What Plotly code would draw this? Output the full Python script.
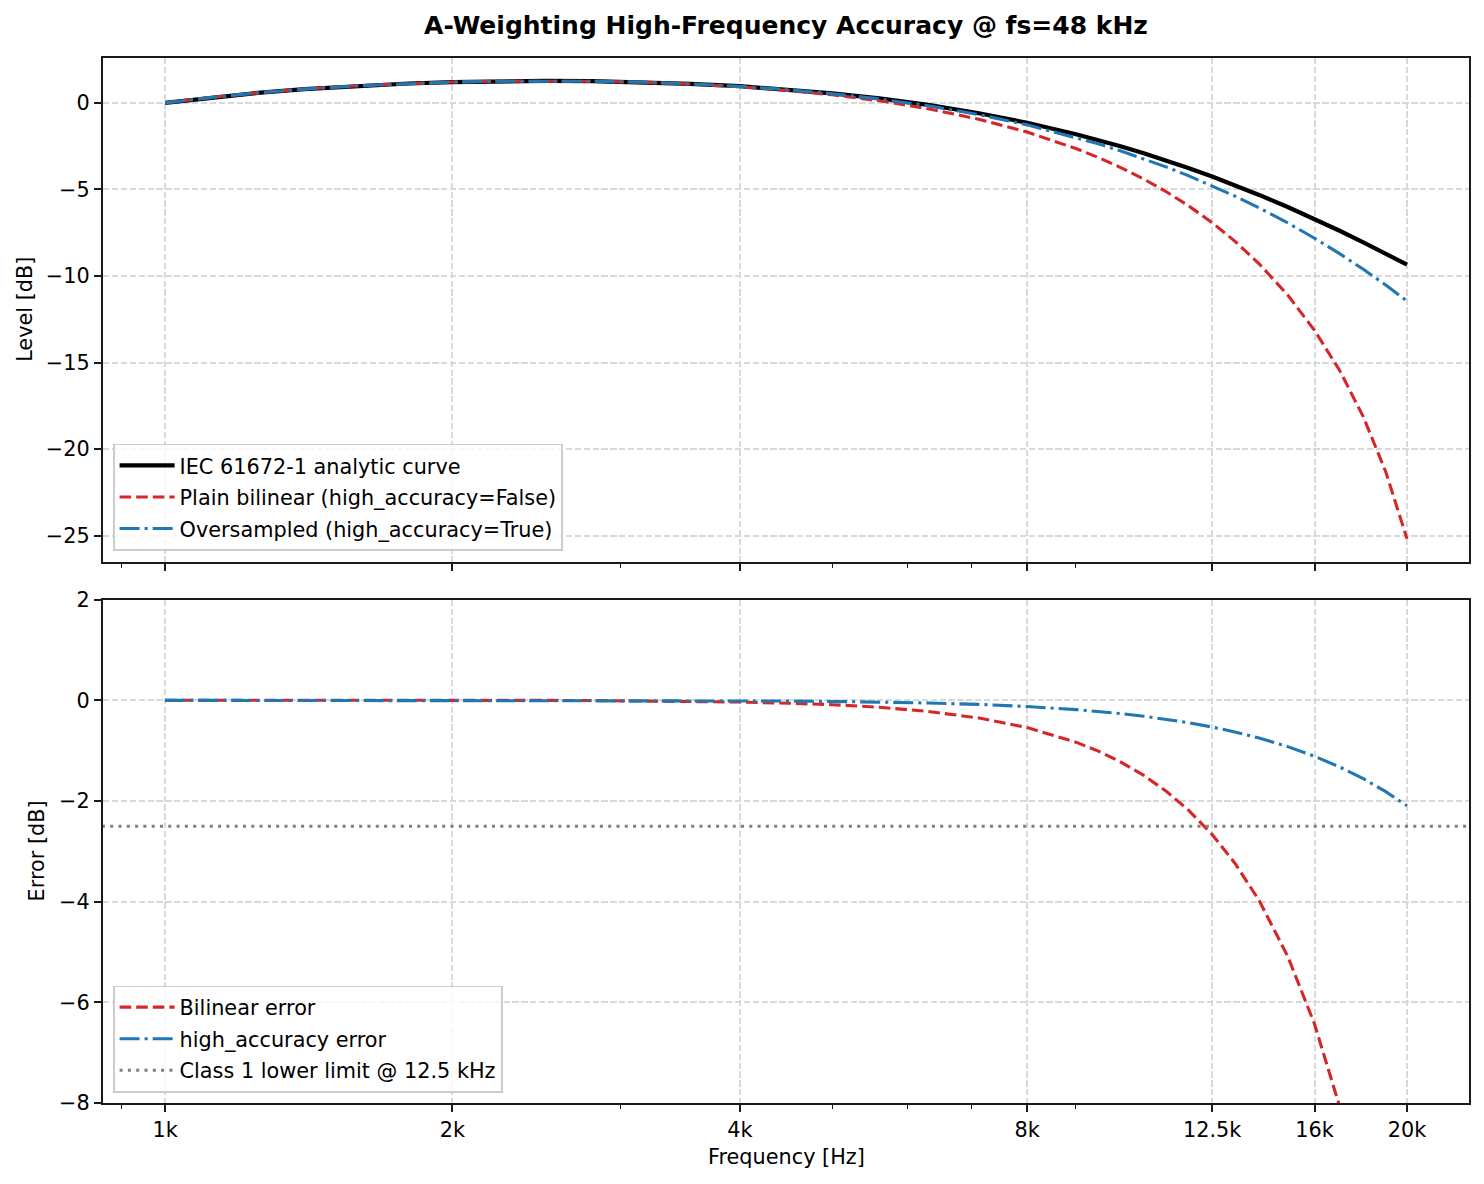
import plotly.graph_objects as go

# ---------------- data ----------------
FREQ_HZ = [1000, 1120, 1250, 1400, 1600, 1800, 2000, 2240, 2500, 2800, 3150, 3550,
           4000, 4500, 5000, 5600, 6300, 7100, 8000, 9000, 9500, 10000, 10600,
           11200, 11800, 12500, 13200, 14000, 15000, 16000, 17000, 18000, 19000, 20000]

ANALYTIC_DB = [0.000, 0.318, 0.576, 0.794, 0.993, 1.122, 1.202, 1.254, 1.271, 1.255,
               1.201, 1.105, 0.964, 0.773, 0.554, 0.261, -0.116, -0.583, -1.147,
               -1.807, -2.147, -2.492, -2.910, -3.333, -3.757, -4.254, -4.750,
               -5.315, -6.015, -6.706, -7.386, -8.053, -8.707, -9.347]

BILINEAR_DB = [0.004, 0.323, 0.581, 0.799, 0.998, 1.126, 1.206, 1.256, 1.271, 1.252,
               1.192, 1.087, 0.931, 0.717, 0.468, 0.125, -0.336, -0.929, -1.687,
               -2.637, -3.155, -3.704, -4.401, -5.144, -5.934, -6.920, -7.980,
               -9.291, -11.101, -13.136, -15.452, -18.131, -21.303, -25.185]

OVERSAMPLED_DB = [0.001, 0.319, 0.577, 0.795, 0.994, 1.123, 1.203, 1.254, 1.271, 1.254,
                  1.199, 1.100, 0.956, 0.760, 0.533, 0.229, -0.167, -0.662, -1.269,
                  -1.989, -2.366, -2.751, -3.224, -3.708, -4.200, -4.784, -5.377,
                  -6.063, -6.934, -7.816, -8.709, -9.610, -10.521, -11.442]

BILINEAR_ERR_DB = [0.004, 0.005, 0.005, 0.005, 0.005, 0.004, 0.004, 0.002, 0.000, -0.003,
                   -0.009, -0.018, -0.033, -0.056, -0.086, -0.136, -0.220, -0.346, -0.540,
                   -0.830, -1.009, -1.212, -1.491, -1.811, -2.177, -2.666, -3.230,
                   -3.976, -5.086, -6.430, -8.066, -10.078, -12.596, -15.838]

HA_ERR_DB = [0.001, 0.001, 0.001, 0.001, 0.001, 0.001, 0.001, 0.001, 0.000, -0.001,
             -0.002, -0.005, -0.008, -0.013, -0.021, -0.032, -0.051, -0.079, -0.122,
             -0.183, -0.219, -0.260, -0.314, -0.375, -0.443, -0.530, -0.626,
             -0.748, -0.919, -1.110, -1.323, -1.556, -1.814, -2.095]

CLASS1_LIMIT_DB = -2.5

X_TICK_VALS = [1000, 2000, 4000, 8000, 12500, 16000, 20000]
X_TICK_TEXT = ["1k", "2k", "4k", "8k", "12.5k", "16k", "20k"]
X_MINOR_VALS = [900, 3000, 5000, 6000, 7000, 9000]

# ---------------- styling ----------------
FONT = "DejaVu Sans"
FS = 20.8
RED = "#d62728"
BLUE = "#1f77b4"
GRID = "#d9d9d9"
SPINE = "#1a1a1a"

fig = go.Figure()

fig.add_trace(go.Scatter(x=FREQ_HZ, y=ANALYTIC_DB, mode="lines",
                         name="IEC 61672-1 analytic curve",
                         line=dict(color="black", width=4.2),
                         xaxis="x", yaxis="y", legend="legend", legendgroup="a"))
fig.add_trace(go.Scatter(x=FREQ_HZ, y=BILINEAR_DB, mode="lines",
                         name="Plain bilinear (high_accuracy=False)",
                         line=dict(color=RED, width=3.1, dash="11.6px,5px"),
                         xaxis="x", yaxis="y", legend="legend", legendgroup="b"))
fig.add_trace(go.Scatter(x=FREQ_HZ, y=OVERSAMPLED_DB, mode="lines",
                         name="Oversampled (high_accuracy=True)",
                         line=dict(color=BLUE, width=3.1, dash="20px,5px,3.1px,5px"),
                         xaxis="x", yaxis="y", legend="legend", legendgroup="c"))

fig.add_trace(go.Scatter(x=FREQ_HZ, y=BILINEAR_ERR_DB, mode="lines",
                         name="Bilinear error",
                         line=dict(color=RED, width=3.1, dash="11.6px,5px"),
                         xaxis="x2", yaxis="y2", legend="legend2", legendgroup="d"))
fig.add_trace(go.Scatter(x=FREQ_HZ, y=HA_ERR_DB, mode="lines",
                         name="high_accuracy error",
                         line=dict(color=BLUE, width=3.1, dash="20px,5px,3.1px,5px"),
                         xaxis="x2", yaxis="y2", legend="legend2", legendgroup="e"))
fig.add_trace(go.Scatter(x=[FREQ_HZ[0] / 2, FREQ_HZ[-1] * 2],
                         y=[CLASS1_LIMIT_DB, CLASS1_LIMIT_DB], mode="lines",
                         name="Class 1 lower limit @ 12.5 kHz",
                         line=dict(color="gray", width=3.1, dash="3.1px,5.2px"),
                         xaxis="x2", yaxis="y2", legend="legend2", legendgroup="f"))

X_RANGE = [2.93495, 4.36598]

common_x = dict(type="log", range=X_RANGE, tickmode="array", tickvals=X_TICK_VALS,
                ticktext=X_TICK_TEXT, ticks="outside", ticklen=7.3, tickwidth=1.6,
                tickcolor=SPINE, showline=True, linecolor=SPINE, linewidth=1.6,
                mirror=True, showgrid=True, gridcolor=GRID, gridwidth=1.6,
                griddash="6.2px,2.7px", zeroline=False,
                tickfont=dict(family=FONT, size=FS, color="black"),
                minor=dict(tickmode="array", tickvals=X_MINOR_VALS, ticks="outside",
                           ticklen=4.2, tickwidth=1.2, tickcolor=SPINE, showgrid=False))

common_y = dict(ticks="outside", ticklen=7.3, tickwidth=1.6, tickcolor=SPINE,
                showline=True, linecolor=SPINE, linewidth=1.6, mirror=True,
                showgrid=True, gridcolor=GRID, gridwidth=1.6, griddash="6.2px,2.7px",
                zeroline=False, tickfont=dict(family=FONT, size=FS, color="black"))

TOP_DOM = [0.5179, 1.0]
BOT_DOM = [0.0, 0.4816]

legend_common = dict(font=dict(family=FONT, size=FS, color="black"),
                     bgcolor="rgba(255,255,255,0.8)", bordercolor="#cccccc",
                     borderwidth=1.6, xanchor="left", yanchor="bottom",
                     tracegroupgap=1.5, itemwidth=55)

fig.update_layout(
    width=1484, height=1184,
    margin=dict(l=103, r=15, t=58, b=80.5),
    paper_bgcolor="white", plot_bgcolor="white",
    font=dict(family=FONT, size=FS, color="black"),
    title=dict(text="<b>A-Weighting High-Frequency Accuracy @ fs=48 kHz</b>",
               font=dict(family=FONT, size=25, color="black"),
               x=0.5, xref="paper", xanchor="center",
               y=1 - 25 / 1184, yref="container", yanchor="middle"),
    xaxis=dict(common_x, domain=[0, 1], anchor="y", matches="x2", showticklabels=False),
    yaxis=dict(common_y, domain=TOP_DOM, anchor="x", range=[-26.508, 2.594],
               tickmode="linear", tick0=0, dtick=5),
    xaxis2=dict(common_x, domain=[0, 1], anchor="y2"),
    yaxis2=dict(common_y, domain=BOT_DOM, anchor="x2", range=[-8, 2],
                tickmode="linear", tick0=0, dtick=2),
    legend=dict(legend_common, x=0.0073, y=0.5284),
    legend2=dict(legend_common, x=0.0073, y=0.010),
    showlegend=True,
    annotations=[
        dict(text="Level [dB]", textangle=-90, x=-0.0571, y=0.759, xref="paper",
             yref="paper", showarrow=False, xanchor="center", yanchor="middle",
             font=dict(family=FONT, size=FS, color="black")),
        dict(text="Error [dB]", textangle=-90, x=-0.0483, y=0.2408, xref="paper",
             yref="paper", showarrow=False, xanchor="center", yanchor="middle",
             font=dict(family=FONT, size=FS, color="black")),
        dict(text="Frequency [Hz]", x=0.5, y=-0.0512, xref="paper", yref="paper",
             showarrow=False, xanchor="center", yanchor="middle",
             font=dict(family=FONT, size=FS, color="black")),
    ],
)

fig.write_html("out.html")
